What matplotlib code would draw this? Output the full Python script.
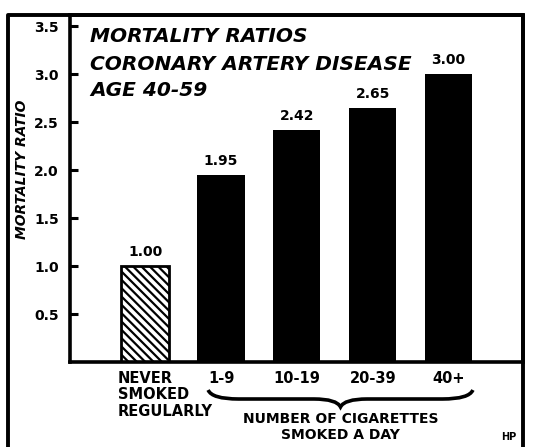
import matplotlib
matplotlib.use("Agg")
import matplotlib.pyplot as plt
from matplotlib.lines import Line2D
from matplotlib.path import Path
from matplotlib.patches import PathPatch
import matplotlib.transforms as mtransforms

categories = ["NEVER\nSMOKED\nREGULARLY", "1-9", "10-19", "20-39", "40+"]
values = [1.00, 1.95, 2.42, 2.65, 3.00]
value_labels = ["1.00", "1.95", "2.42", "2.65", "3.00"]
yticks = [0.5, 1.0, 1.5, 2.0, 2.5, 3.0, 3.5]
ytick_labels = ["0.5", "1.0", "1.5", "2.0", "2.5", "3.0", "3.5"]
title_lines = ["MORTALITY RATIOS", "CORONARY ARTERY DISEASE", "AGE 40-59"]

plt.rcParams['font.family'] = ['DejaVu Sans']
plt.rcParams['hatch.linewidth'] = 1.6

W, H = 534, 447
fig = plt.figure(figsize=(W / 100, H / 100), dpi=100)
fig.patch.set_facecolor("white")

def fx(px):
    return px / W

def fy(py):
    return 1 - py / H

ax = fig.add_axes([fx(70), fy(362), fx(523) - fx(70), fy(15) - fy(362)])
ax.set_xlim(-0.99, 4.98)
ax.set_ylim(0, (362 - 15) / 96.0)

for i, v in enumerate(values):
    if i == 0:
        ax.bar(i, v, width=0.64, facecolor="white", edgecolor="black",
               hatch="\\\\\\\\", linewidth=2.0)
    else:
        ax.bar(i, v, width=0.62, color="black", linewidth=0)
    ax.annotate(value_labels[i], (i, v), xytext=(0, 5), textcoords="offset points",
                ha="center", va="bottom", fontsize=10, fontweight="bold")

for s in ax.spines.values():
    s.set_linewidth(2.6)
ax.set_yticks(yticks)
ax.set_yticklabels(ytick_labels, fontsize=10, fontweight="bold")
ax.tick_params(axis="y", direction="in", length=6, width=2.2, pad=8)
ax.set_xticks([])

bx = mtransforms.blended_transform_factory(ax.transData, ax.transAxes)
# category labels
for i, lab in enumerate(categories):
    if i == 0:
        for k, line in enumerate(lab.split("\n")):
            ax.text(i - 0.36, -0.025 - k * 0.048, line, transform=bx,
                    ha="left", va="top", fontsize=10.5, fontweight="bold")
    else:
        ax.text(i, -0.025, lab, transform=bx,
                ha="center", va="top", fontsize=10.5, fontweight="bold")

# y label
fig.text(fx(22), fy(169), "MORTALITY RATIO", rotation=90, ha="center", va="center",
         fontsize=10, fontweight="bold", fontstyle="italic")

# title
for py, t in zip([36, 65, 91], title_lines):
    fig.text(fx(90), fy(py), t, ha="left", va="center", fontsize=14.5,
             fontweight="bold", fontstyle="italic")

# outer frame
fig.add_artist(Line2D([fx(8), fx(8), fx(523), fx(523)], [0, fy(15), fy(15), 0],
                      transform=fig.transFigure, color="black", linewidth=2.8))

# brace under smoker categories
bt = mtransforms.blended_transform_factory(ax.transData, fig.transFigure)
x0, x1 = 1 - 0.17, 4 + 0.32
xc = (x0 + x1) / 2
ye, ym, yt = fy(390), fy(399), fy(407)
verts = [(x0, ye), (x0 + 0.05, ym), (x0 + 0.4, ym),
         (xc - 0.35, ym),
         (xc - 0.05, ym), (xc, yt),
         (xc + 0.05, ym), (xc + 0.35, ym),
         (x1 - 0.4, ym),
         (x1 - 0.05, ym), (x1, ye)]
codes = [Path.MOVETO, Path.CURVE3, Path.CURVE3, Path.LINETO,
         Path.CURVE3, Path.CURVE3, Path.CURVE3, Path.CURVE3,
         Path.LINETO, Path.CURVE3, Path.CURVE3]
brace = PathPatch(Path(verts, codes), transform=bt, facecolor="none",
                  edgecolor="black", linewidth=2.6, clip_on=False)
fig.add_artist(brace)

ax.text(xc, fy(412), "NUMBER OF CIGARETTES\nSMOKED A DAY", transform=bt,
        ha="center", va="top", fontsize=10, fontweight="bold", linespacing=1.2)

fig.text(fx(509), fy(437), "HP", ha="center", va="center", fontsize=7, fontweight="bold")

fig.savefig("out.png", dpi=100, facecolor="white")
